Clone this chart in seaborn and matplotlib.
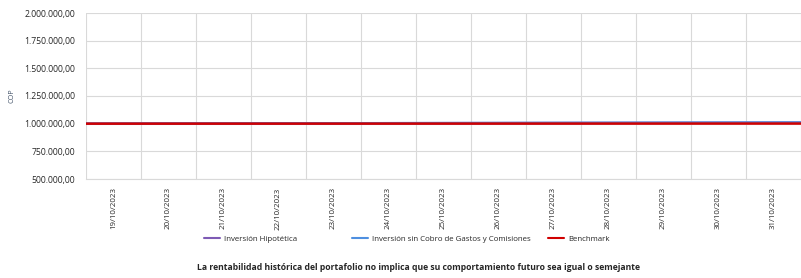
import numpy as np
import pandas as pd
import matplotlib
matplotlib.use('Agg')
import matplotlib.pyplot as plt
import matplotlib.ticker as mticker
import seaborn as sns

# Daily values (18/10/2023 .. 31/10/2023)
fechas = ['18/10/2023', '19/10/2023', '20/10/2023', '21/10/2023', '22/10/2023',
          '23/10/2023', '24/10/2023', '25/10/2023', '26/10/2023', '27/10/2023',
          '28/10/2023', '29/10/2023', '30/10/2023', '31/10/2023']
hipotetica = [1000000, 1000700, 1001400, 1002100, 1002800, 1003500, 1004200,
              1004900, 1005700, 1006500, 1007300, 1008100, 1008900, 1009700]
sin_cobro = [1000000, 1000750, 1001500, 1002250, 1003000, 1003750, 1004500,
             1005250, 1006050, 1006850, 1007650, 1008450, 1009250, 1010100]
benchmark = [1000000, 1000080, 1000160, 1000240, 1000320, 1000400, 1000480,
             1000560, 1000640, 1000720, 1000800, 1000880, 1000960, 1001040]
etiquetas = fechas[1:]

series = {
    'Inversión Hipotética': hipotetica,
    'Inversión sin Cobro de Gastos y Comisiones': sin_cobro,
    'Benchmark': benchmark,
}
colores = {
    'Inversión Hipotética': '#7E5BB5',
    'Inversión sin Cobro de Gastos y Comisiones': '#4F8FE0',
    'Benchmark': '#D00000',
}

rows = []
for name, vals in series.items():
    for i, v in enumerate(vals):
        rows.append({'pos': i, 'fecha': fechas[i], 'serie': name, 'valor': v})
df = pd.DataFrame(rows)

sns.set_style('white')
plt.rcParams['font.family'] = ['Open Sans', 'DejaVu Sans']

fig = plt.figure(figsize=(8.01, 2.78), dpi=100)
ax = fig.add_axes([86 / 801, 1 - 179 / 278, 1 - 86 / 801, (179 - 13) / 278])

sns.lineplot(data=df, x='pos', y='valor', hue='serie', palette=colores,
             linewidth=1.8, ax=ax, legend=False)

ax.set_ylim(500000, 2000000)
ax.set_yticks(np.arange(500000, 2000001, 250000))
ax.yaxis.set_major_formatter(mticker.FuncFormatter(
    lambda v, p: f'{v:,.2f}'.replace(',', 'X').replace('.', ',').replace('X', '.')))

ax.set_xlim(0, (801 - 86) / 55.6)
ax.set_xticks(np.arange(0, 14), minor=False)
ax.set_xticklabels([])
ax.set_xticks(np.arange(0.5, 13, 1), minor=True)
ax.set_xticklabels(etiquetas, minor=True, rotation=90, fontsize=5.7)
ax.tick_params(axis='x', which='minor', length=0, pad=6)
ax.tick_params(axis='x', which='major', length=5, color='#D9D9D9', direction='out')
ax.tick_params(axis='y', length=0, pad=8, labelsize=6.2)

ax.grid(True, which='major', color='#D9D9D9', linewidth=0.8)
for s in ['top', 'right', 'left']:
    ax.spines[s].set_visible(False)
ax.spines['bottom'].set_color('#D9D9D9')
ax.set_xlabel('')
ax.set_ylabel('COP', fontsize=5.2, color='#44546A')
ax.yaxis.set_label_coords(-0.098, 0.5)

# legend entries placed one by one, like the original layout
legend_x = [204, 352, 548]
for name, x0 in zip(series, legend_x):
    h = plt.Line2D([], [], color=colores[name], linewidth=1.5)
    fig.legend([h], [name], loc='center left',
               bbox_to_anchor=(x0 / 801, 1 - 239 / 278), frameon=False,
               fontsize=5.7, handlelength=2.0, handletextpad=0.5,
               borderpad=0, borderaxespad=0)

fig.text(418 / 801, 1 - 267 / 278,
         'La rentabilidad histórica del portafolio no implica que su comportamiento futuro sea igual o semejante',
         ha='center', va='center', fontsize=6.2, fontweight='bold')

fig.savefig('out.png', dpi=100)
